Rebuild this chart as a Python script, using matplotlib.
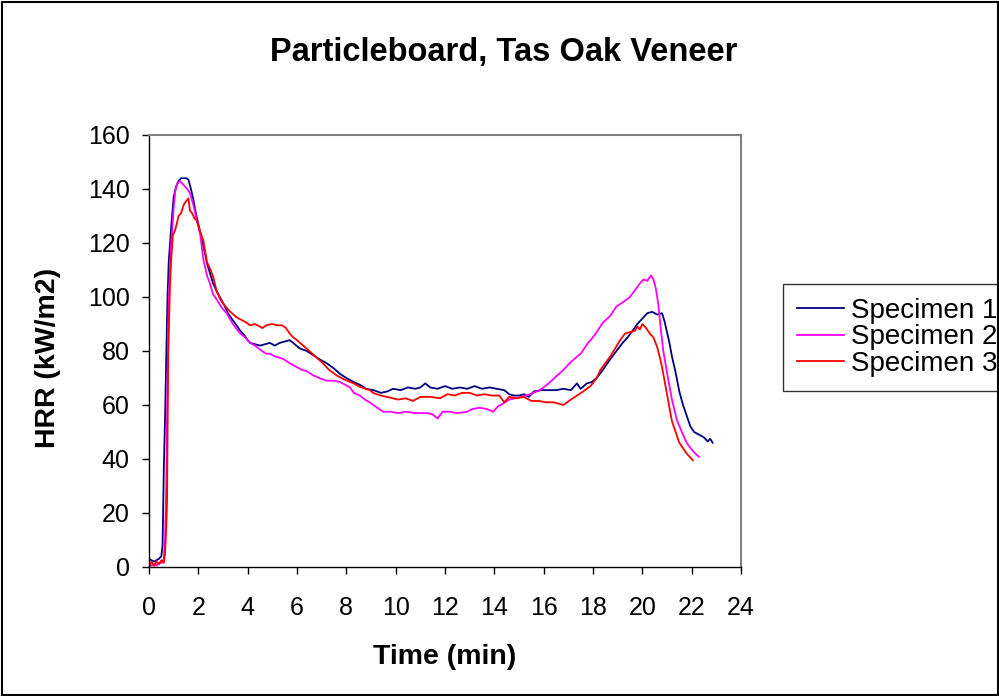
import matplotlib
matplotlib.use("Agg")
import matplotlib.pyplot as plt
from matplotlib.patches import Rectangle

plt.rcParams['font.family'] = ['Liberation Sans', 'DejaVu Sans']

title = "Particleboard, Tas Oak Veneer"
x_label = "Time (min)"
y_label = "HRR (kW/m2)"
series_names = ["Specimen 1", "Specimen 2", "Specimen 3"]
series_colors = ["#000080", "#FF00FF", "#FF0000"]
x_ticks = list(range(0, 25, 2))
y_ticks = list(range(0, 161, 20))

t1 = [0, 0.1, 0.2, 0.3, 0.4, 0.5, 0.55, 0.6, 0.65, 0.7, 0.75, 0.8, 0.9, 1.0, 1.1, 1.2, 1.3, 1.4, 1.5, 1.6,
      1.7, 1.8, 1.9, 2.0, 2.1, 2.2, 2.35, 2.5, 2.6, 2.75, 2.9, 3.05, 3.2, 3.35, 3.55, 3.7, 3.85, 4.0, 4.1, 4.3,
      4.5, 4.7, 4.9, 5.1, 5.3, 5.5, 5.7, 5.85, 6.1, 6.4, 6.65, 6.9, 7.2, 7.5, 7.75, 8.0, 8.3, 8.55, 8.8, 9.1,
      9.4, 9.65, 9.9, 10.2, 10.5, 10.8, 11.0, 11.2, 11.4, 11.7, 12.0, 12.3, 12.6, 12.9, 13.2, 13.5, 13.8, 14.1,
      14.4, 14.6, 14.8, 15.0, 15.2, 15.4, 15.6, 15.9, 16.2, 16.5, 16.8, 17.1, 17.35, 17.5, 17.75, 17.95, 18.15,
      18.4, 18.7, 18.95, 19.2, 19.4, 19.6, 19.8, 20.0, 20.2, 20.4, 20.6, 20.8, 20.9, 21.0, 21.1, 21.2, 21.35,
      21.5, 21.65, 21.8, 21.95, 22.1, 22.3, 22.5, 22.65, 22.75, 22.85]
v1 = [3, 2.5, 2, 2.5, 3, 4, 8, 36, 55, 78, 100, 113, 126, 137, 141, 143, 144, 144, 144, 143.5,
      140, 136, 131, 127, 123, 119, 112.5, 108, 105, 102, 99.5, 97, 94, 92, 89.5, 87.5, 86, 84, 83, 82.5,
      82, 82.5, 83, 82, 83, 83.5, 84, 83, 81, 80, 78.5, 77, 75.5, 73.5, 71.5, 70, 68.5, 67.5, 66, 65.5,
      64.5, 65, 66, 65.5, 66.5, 66, 66.5, 68, 66.5, 66, 67, 66, 66.5, 66, 67, 66, 66.5, 66,
      65.5, 64, 63.5, 63.5, 64, 63, 65, 65.5, 65.5, 65.5, 66, 65.5, 68, 66, 68, 68.5, 70,
      73, 77, 80, 83, 85, 87.5, 90, 92, 94, 94.5, 93.5, 94, 91, 87, 83, 78, 72,
      65, 60, 56, 52, 50, 49, 48, 46.5, 47.5, 46]

t2 = [0, 0.1, 0.2, 0.3, 0.4, 0.5, 0.6, 0.65, 0.7, 0.75, 0.8, 0.85, 0.9, 0.95, 1.0, 1.07, 1.15, 1.25, 1.35,
      1.45, 1.55, 1.66, 1.8, 1.95, 2.07, 2.2, 2.35, 2.47, 2.6, 2.75, 2.95, 3.15, 3.4, 3.7, 3.9, 4.1, 4.3, 4.5,
      4.75, 4.9, 5.1, 5.3, 5.45, 5.7, 6.0, 6.2, 6.4, 6.65, 6.9, 7.2, 7.5, 7.75, 7.95, 8.15, 8.3, 8.55, 8.75,
      8.95, 9.1, 9.25, 9.5, 9.8, 10.1, 10.4, 10.8, 11.0, 11.3, 11.5, 11.7, 11.9, 12.2, 12.5, 12.9, 13.1, 13.4,
      13.7, 13.95, 14.15, 14.35, 14.6, 14.85, 15.1, 15.45, 15.85, 16.2, 16.5, 16.8, 17.05, 17.3, 17.5, 17.8,
      17.9, 18.15, 18.4, 18.7, 18.95, 19.2, 19.5, 19.7, 19.9, 20.05, 20.2, 20.35, 20.45, 20.55, 20.65, 20.75,
      20.85, 21.0, 21.2, 21.4, 21.6, 21.8, 22.0, 22.15, 22.3]
v2 = [1, 0.5, 1, 0.5, 1.5, 1.5, 3, 10, 30, 70, 98, 110, 120, 126, 133, 139.5, 142, 143, 142,
      141, 140, 138.5, 134, 128, 123.5, 114, 108, 105, 101, 99, 96, 94, 90, 86.5, 85, 83, 82, 80.5,
      79, 79, 78, 77.5, 77, 75.5, 74, 73, 72.5, 71, 70, 69, 69, 68.5, 67.5, 66.5, 64.5, 63.5, 62,
      61, 60, 59, 57.5, 57.5, 57, 57.5, 57, 57, 57, 56.5, 55, 57.5, 57.5, 57, 57.5, 58.5, 59,
      58.5, 57.5, 59.5, 60.5, 62, 62.5, 63, 64, 65.5, 68, 70.5, 73, 75.5, 77.5, 79, 83,
      84, 87, 90.5, 93, 96.5, 98, 100, 102.5, 105, 106.5, 106, 108, 106.5, 103, 97, 88,
      80, 72, 62, 54.5, 50, 46, 43.5, 42, 40.8]

t3 = [0, 0.1, 0.2, 0.3, 0.4, 0.5, 0.6, 0.65, 0.7, 0.73, 0.78, 0.85, 0.9, 0.97, 1.05, 1.15, 1.2, 1.3, 1.4,
      1.5, 1.6, 1.66, 1.75, 1.85, 1.93, 2.05, 2.2, 2.35, 2.5, 2.6, 2.75, 2.9, 3.05, 3.3, 3.55, 3.75, 3.95,
      4.1, 4.3, 4.6, 4.75, 5.0, 5.2, 5.4, 5.55, 5.7, 5.85, 6.0, 6.25, 6.5, 6.8, 7.05, 7.3, 7.6, 7.9, 8.3,
      8.55, 8.95, 9.1, 9.4, 9.65, 10.1, 10.4, 10.7, 11.0, 11.4, 11.8, 12.1, 12.4, 12.7, 13.0, 13.3, 13.6,
      13.9, 14.2, 14.4, 14.6, 14.9, 15.2, 15.5, 15.8, 16.1, 16.4, 16.8, 17.1, 17.35, 17.6, 17.9, 18.15, 18.3,
      18.5, 18.7, 18.9, 19.1, 19.3, 19.5, 19.7, 19.8, 19.9, 20.0, 20.15, 20.3, 20.45, 20.6, 20.7, 20.8, 20.9,
      21.0, 21.1, 21.2, 21.35, 21.5, 21.65, 21.8, 21.95, 22.05]
v3 = [0, 2, 0.5, 2, 1, 2.5, 1.5, 5, 15, 24, 79, 104, 114, 123, 124.5, 128, 130, 131, 134,
      135.5, 136.5, 132, 131, 129, 128.5, 125, 121, 113, 110, 107.5, 102, 99, 97, 94.5, 92.5, 91.5, 90.5,
      89.5, 90, 88.5, 89.5, 90, 89.5, 89.5, 88.5, 86.5, 85, 84, 82, 80, 77.5, 75.5, 73, 71, 69.5, 68,
      66.7, 65.5, 64.4, 63.5, 63, 62, 62.5, 61.5, 63, 63, 62.5, 64, 63.5, 64.5, 64.5, 63.5, 64,
      63.5, 63.5, 61, 63, 62.5, 63, 61.5, 61.5, 61, 61, 60, 62, 63.5, 65, 67, 70, 73,
      75.5, 78, 81, 84, 86.5, 87, 87.5, 89, 88, 90, 88.5, 86.5, 85, 81.5, 78, 74, 69,
      64, 59, 54, 50, 46, 44, 42, 40.5, 39.5]

W, H = 999, 696
fig = plt.figure(figsize=(W / 100, H / 100), dpi=100)
fig.patch.set_facecolor("white")

ax_left, ax_right, ax_top, ax_bottom = 149, 741, 135, 567
ax = fig.add_axes([ax_left / W, 1 - ax_bottom / H, (ax_right - ax_left) / W, (ax_bottom - ax_top) / H])

for t, v, name, c in zip([t1, t2, t3], [v1, v2, v3], series_names, series_colors):
    ax.plot(t, v, color=c, lw=1.3, label=name)

ax.set_xlim(0, 24)
ax.set_ylim(0, 160)
ax.set_xticks(x_ticks)
ax.set_yticks(y_ticks)
ax.tick_params(axis='both', direction='out', length=5, width=1, colors='black', labelsize=18)
ax.tick_params(axis='x', pad=16)
ax.tick_params(axis='y', pad=9)
for s in ['top', 'right']:
    ax.spines[s].set_color('#808080')
    ax.spines[s].set_linewidth(1.5)
for s in ['left', 'bottom']:
    ax.spines[s].set_color('black')
    ax.spines[s].set_linewidth(1)

fig.text(504 / W, 1 - 52 / H, title, ha='center', va='center', fontsize=23.5, fontweight='bold')
fig.text(445 / W, 1 - 657 / H, x_label, ha='center', va='center', fontsize=20.5, fontweight='bold')
fig.text(48 / W, 1 - 358 / H, y_label, ha='center', va='center', fontsize=20.5, fontweight='bold', rotation=90)

leg = ax.legend(loc='upper left', bbox_to_anchor=(783 / W, 1 - 284 / H), bbox_transform=fig.transFigure,
                frameon=True, fancybox=False, fontsize=20, handlelength=1.7, handletextpad=0.25,
                borderpad=0.5, labelspacing=0.02, borderaxespad=0)
leg.get_frame().set_edgecolor('black')
leg.get_frame().set_linewidth(1)

fig.patches.append(Rectangle((1.5 / W, 1.5 / H), 1 - 3 / W, 1 - 3 / H, transform=fig.transFigure,
                             fill=False, edgecolor='black', lw=1.5))

fig.savefig("out.png", dpi=100)
